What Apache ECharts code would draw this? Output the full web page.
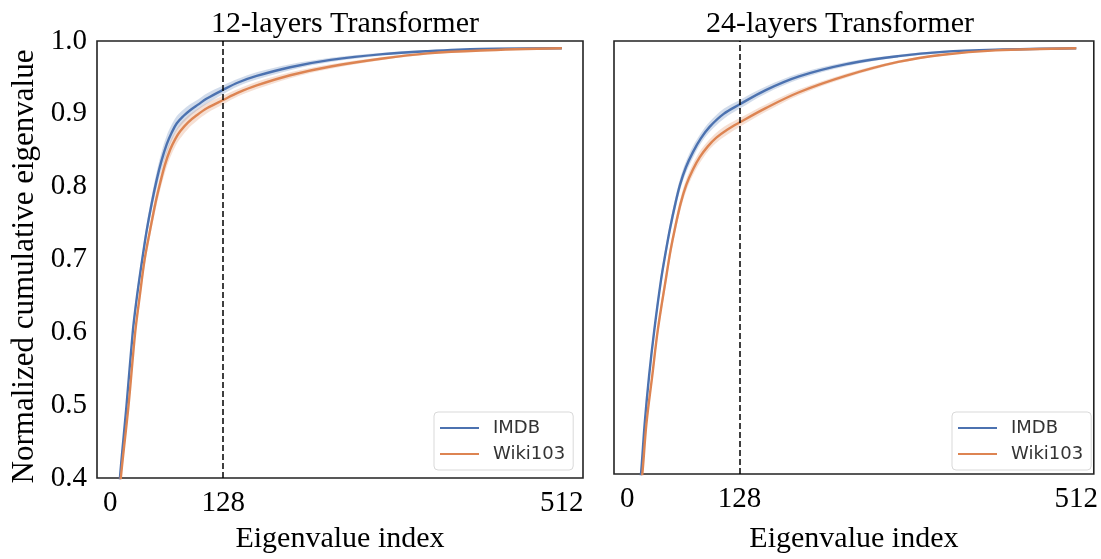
<!DOCTYPE html>
<html><head><meta charset="utf-8">
<script src="https://cdn.jsdelivr.net/npm/echarts@6/dist/echarts.min.js"></script>
<style>html,body{margin:0;padding:0;background:#fff}#c{width:1101px;height:559px}</style>
</head><body><div id="c"></div>
<script>
// ---- data ----
const panelTitles = ['12-layers Transformer', '24-layers Transformer'];
const seriesNames = ['IMDB', 'Wiki103'];
const xTickValues = [0, 128, 512];
const markIndex = 128;

// 12-layers, IMDB
const idx12Imdb = [5, 11, 18.5, 25.5, 29, 33, 37, 41.5, 47, 52.8, 58, 64, 70, 75.5, 83, 90.6, 100, 109.5, 128, 145, 166, 204, 250, 309, 360, 420, 512];
const val12Imdb = [0.30, 0.40, 0.50, 0.60, 0.637, 0.673, 0.706, 0.741, 0.777, 0.81, 0.835, 0.858, 0.875, 0.887, 0.897, 0.905, 0.913, 0.921, 0.933, 0.943, 0.952, 0.964, 0.974, 0.982, 0.986, 0.989, 0.990];
const sd12Imdb  = [0.008, 0.008, 0.008, 0.008, 0.008, 0.008, 0.009, 0.009, 0.010, 0.011, 0.012, 0.012, 0.011, 0.010, 0.009, 0.008, 0.007, 0.007, 0.006, 0.005, 0.005, 0.004, 0.003, 0.002, 0.0015, 0.001, 0.0005];
// 12-layers, Wiki103
const idx12Wiki = [5, 12, 20.8, 28.3, 33.5, 39, 45.3, 51, 56.6, 62, 68, 74, 79.3, 88, 98, 110, 128, 145, 166, 204, 250, 309, 360, 420, 512];
const val12Wiki = [0.30, 0.40, 0.50, 0.60, 0.65, 0.70, 0.741, 0.776, 0.805, 0.83, 0.851, 0.866, 0.876, 0.888, 0.898, 0.908, 0.919, 0.929, 0.939, 0.953, 0.965, 0.976, 0.983, 0.987, 0.990];
const sd12Wiki  = [0.008, 0.008, 0.008, 0.008, 0.008, 0.009, 0.009, 0.010, 0.010, 0.011, 0.011, 0.010, 0.010, 0.009, 0.008, 0.007, 0.006, 0.005, 0.005, 0.004, 0.003, 0.002, 0.0015, 0.001, 0.0005];
// 24-layers, IMDB
const idx24Imdb = [8, 15.8, 20, 25, 31, 38.5, 44, 49, 55, 60.3, 67, 75, 84, 94, 110, 128, 158, 196, 250, 309, 360, 420, 512];
const val24Imdb = [0.30, 0.40, 0.47, 0.536, 0.60, 0.668, 0.708, 0.741, 0.775, 0.801, 0.825, 0.846, 0.865, 0.881, 0.899, 0.912, 0.932, 0.951, 0.968, 0.979, 0.985, 0.988, 0.990];
const sd24Imdb  = [0.008, 0.008, 0.008, 0.008, 0.008, 0.008, 0.008, 0.008, 0.008, 0.008, 0.008, 0.008, 0.007, 0.007, 0.007, 0.006, 0.005, 0.004, 0.003, 0.002, 0.0015, 0.001, 0.0005];
// 24-layers, Wiki103
const idx24Wiki = [9, 17.3, 22, 28.6, 35, 44.5, 49.5, 54.6, 61, 67.5, 75, 82.8, 92, 101.7, 114, 128, 158, 196, 250, 309, 360, 420, 512];
const val24Wiki = [0.30, 0.40, 0.47, 0.536, 0.60, 0.673, 0.71, 0.741, 0.775, 0.801, 0.822, 0.839, 0.854, 0.866, 0.877, 0.887, 0.907, 0.929, 0.952, 0.971, 0.981, 0.987, 0.990];
const sd24Wiki  = [0.008, 0.008, 0.008, 0.008, 0.008, 0.008, 0.008, 0.008, 0.008, 0.008, 0.008, 0.008, 0.007, 0.007, 0.007, 0.006, 0.005, 0.004, 0.003, 0.002, 0.0015, 0.001, 0.0005];

// ---- styling ----
const blue = '#4C72B0', orange = '#DD8452';
const blueBand = 'rgba(76,114,176,0.25)', orangeBand = 'rgba(221,132,82,0.25)';
const serif = "'Liberation Serif', 'Times New Roman', serif";
const SMOOTH = 0.35;

const series = [];
function addCurve(gi, name, xs, ys, sd, color, bandColor, withMark) {
  // shaded band (mean +/- sd), drawn through the axes' scales
  series.push({
    type: 'custom', name: name + ' band', xAxisIndex: gi, yAxisIndex: gi,
    silent: true, clip: true, z: 1,
    data: xs.map((x, i) => [x, ys[i] - sd[i], ys[i] + sd[i]]),
    renderItem: function (params, api) {
      if (params.dataIndex !== 0) return;
      const n = xs.length;
      const upper = [], lower = [];
      for (let i = 0; i < n; i++) {
        upper.push(api.coord([api.value(0, i), api.value(2, i)]));
        lower.push(api.coord([api.value(0, i), api.value(1, i)]));
      }
      return {
        type: 'group',
        children: [{
          type: 'polygon', shape: { points: upper.concat(lower.reverse()), smooth: SMOOTH },
          style: { fill: bandColor, stroke: null }
        }]
      };
    }
  });
  const main = {
    type: 'line', name: name, xAxisIndex: gi, yAxisIndex: gi, z: 3,
    symbol: 'none', smooth: SMOOTH, silent: true,
    data: xs.map((x, i) => [x, ys[i]]),
    lineStyle: { color: color, width: 2.4 },
    itemStyle: { color: color }
  };
  if (withMark) {
    main.markLine = {
      silent: true, symbol: ['none', 'none'], label: { show: false },
      lineStyle: { type: [6, 3], color: '#000', width: 1.5 },
      data: [{ xAxis: markIndex }], z: 5
    };
  }
  series.push(main);
}
addCurve(0, seriesNames[0], idx12Imdb, val12Imdb, sd12Imdb, blue, blueBand, true);
addCurve(0, seriesNames[1], idx12Wiki, val12Wiki, sd12Wiki, orange, orangeBand, false);
addCurve(1, seriesNames[0], idx24Imdb, val24Imdb, sd24Imdb, blue, blueBand, true);
addCurve(1, seriesNames[1], idx24Wiki, val24Wiki, sd24Wiki, orange, orangeBand, false);

const gridBase = { top: 41, height: 439, show: true, borderColor: '#222', borderWidth: 1.6, backgroundColor: 'transparent' };
function xAxisFor(gi, max, gap) {
  return {
    type: 'value', gridIndex: gi, min: -15, max: max,
    name: 'Eigenvalue index', nameLocation: 'middle', nameGap: gap,
    nameTextStyle: { fontFamily: serif, fontSize: 30, color: '#000' },
    axisLine: { show: false }, axisTick: { show: false }, splitLine: { show: false },
    axisLabel: { customValues: xTickValues, fontFamily: serif, fontSize: 29, color: '#000', margin: 11 }
  };
}
function yAxisFor(gi, showLabels) {
  const a = {
    type: 'value', gridIndex: gi, min: 0.4, max: 1.0, interval: 0.1,
    axisLine: { show: false }, axisTick: { show: false }, splitLine: { show: false },
    axisLabel: { show: showLabels, fontFamily: serif, fontSize: 29, color: '#000', margin: 10, formatter: v => v.toFixed(1) }
  };
  if (showLabels) {
    a.name = 'Normalized cumulative eigenvalue';
    a.nameLocation = 'middle';
    a.nameGap = 57;
    a.nameTextStyle = { fontFamily: serif, fontSize: 31, color: '#000', padding: [0, 0, 0, -14] };
  }
  return a;
}
function legendFor(left) {
  return {
    left: left, top: 412, orient: 'vertical', data: seriesNames, icon: 'rect',
    itemWidth: 39, itemHeight: 2, itemGap: 8, padding: [7, 8, 7, 6],
    backgroundColor: '#fff', borderColor: '#d9d9d9', borderWidth: 1, borderRadius: 4,
    selectedMode: false,
    textStyle: { fontFamily: 'DejaVu Sans', fontSize: 18, color: '#333', padding: [0, 0, 0, 9] }
  };
}

const option = {
  animation: false,
  backgroundColor: '#fff',
  title: [
    { text: panelTitles[0], left: 340, top: 4, textAlign: 'center', textStyle: { fontFamily: serif, fontSize: 30, fontWeight: 'normal', color: '#000' } },
    { text: panelTitles[1], left: 835, top: 4, textAlign: 'center', textStyle: { fontFamily: serif, fontSize: 30, fontWeight: 'normal', color: '#000' } }
  ],
  legend: [legendFor(434), legendFor(952)],
  grid: [Object.assign({ left: 97, width: 486 }, gridBase), Object.assign({ left: 614, width: 484 }, gridBase)],
  xAxis: [xAxisFor(0, 536, 46), xAxisFor(1, 532, 50)],
  yAxis: [yAxisFor(0, true), yAxisFor(1, false)],
  series: series
};
const chart = echarts.init(document.getElementById('c'), null, { renderer: 'canvas' });
chart.setOption(option);
</script>
</body></html>
